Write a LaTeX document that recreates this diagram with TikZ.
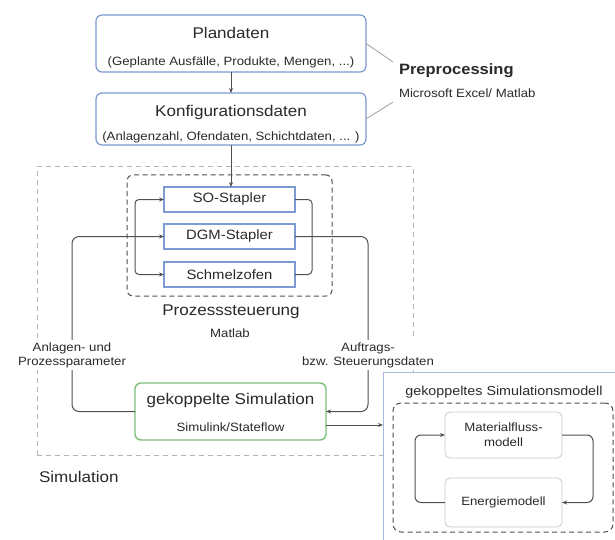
\documentclass[tikz,border=0pt]{standalone}
\usepackage{fontspec}
\setmainfont{Liberation Sans}[FakeStretch=1.1]
\usetikzlibrary{arrows.meta,calc}
\definecolor{txt}{HTML}{2A2A2A}
\definecolor{bluebd}{HTML}{7D9BD0}
\definecolor{lightbd}{HTML}{A9B9DE}
\definecolor{greenbd}{HTML}{7DC07D}
\definecolor{linec}{HTML}{505050}
\definecolor{simdash}{HTML}{B4B4B4}
\definecolor{prepline}{HTML}{A8A8A8}
\definecolor{modbd}{HTML}{C8C8C8}
\newcommand{\fsz}[1]{\fontsize{#1}{#1}\selectfont}
\tikzset{
  every node/.style={text=txt, inner sep=0pt, outer sep=0pt},
  databox/.style={draw=bluebd, line width=1.2pt, fill=white, rounded corners=6pt},
  stapbox/.style={draw=bluebd, line width=1.2pt, fill=white, minimum width=131pt, minimum height=25pt, font=\fsz{13.5}},
  simbox/.style={draw=greenbd, line width=1.4pt, fill=white, rounded corners=6pt},
  modbox/.style={draw=modbd, line width=0.8pt, fill=white, rounded corners=5pt, minimum width=117pt, align=center, font=\fsz{12}},
  ttl/.style={font=\fsz{15.5}},
  sub/.style={font=\fsz{12}},
  conn/.style={draw=linec, line width=1pt},
  arr/.style={conn, -{Stealth[length=5pt,width=4pt]}},
  lbl/.style={fill=white, align=center, font=\fsz{12}, inner sep=2pt},
}
\begin{document}
\begin{tikzpicture}[x=1pt,y=-1pt]
\useasboundingbox (0,0) rectangle (615,540);
\clip (0,0) rectangle (615,540);
\fill[white] (0,0) rectangle (615,540);

% Preprocessing boxes
\node[databox, minimum width=270pt, minimum height=57pt] (plan) at (231,43.5) {};
\node[ttl] (planT) at (231,33) {Plandaten};
\node[sub] (planS) at (231,62) {(Geplante Ausfälle, Produkte, Mengen, ...)};
\node[databox, minimum width=270pt, minimum height=52pt] (konf) at (231,119) {};
\node[ttl] (konfT) at (231,112) {Konfigurationsdaten};
\node[sub] (konfS) at (231,137) {(Anlagenzahl, Ofendaten, Schichtdaten, ... )};
\draw[arr] (plan.south) -- (konf.north);

\coordinate (pp1) at (393,62);
\coordinate (pp2) at (393,102);
\draw[draw=prepline, line width=0.9pt] (plan.east) -- (pp1);
\draw[draw=prepline, line width=0.9pt] (konf.east) -- (pp2);
\node[anchor=west, font=\bfseries\fsz{15}] (pre) at (399,71) {Preprocessing};
\node[anchor=west, font=\fsz{12}] (preS) at (399,93) {Microsoft Excel/ Matlab};

% Simulation area
\node[draw=simdash, line width=1pt, dash pattern=on 5pt off 4pt, minimum width=376pt, minimum height=288pt] (sim) at (225,311) {};
\node[anchor=west, font=\fsz{15.5}] (simL) at (39,477) {Simulation};

\node[draw=linec, line width=1pt, dash pattern=on 5pt off 3.5pt, rounded corners=6pt, minimum width=205pt, minimum height=121pt] (proz) at (229.5,235.5) {};
\node[stapbox] (so) at (229.5,199.5) {SO-Stapler};
\node[stapbox] (dgm) at (229.5,236.5) {DGM-Stapler};
\node[stapbox] (schm) at (229.5,274.5) {Schmelzofen};
\node[ttl] (prozL) at (231,312) {Prozesssteuerung};
\node[sub] (prozS) at (230,333) {Matlab};

\draw[arr] (konf.south) -- (konf.south |- so.north);

\coordinate (fork) at (135,236.5);
\draw[arr, rounded corners=4pt] (fork) |- (so.west);
\draw[arr, rounded corners=4pt] (fork) |- (schm.west);
\draw[conn, rounded corners=4pt] (so.east) -- ++(17,0) |- (schm.east);

\node[simbox, minimum width=191pt, minimum height=57pt] (gek) at (230.5,411.5) {};
\node[ttl] (gekT) at (230.5,400) {gekoppelte Simulation};
\node[sub] (gekS) at (230.5,427) {Simulink/Stateflow};

\coordinate (rc) at (368,300);
\coordinate (lc) at (72,300);
\draw[arr, rounded corners=7pt] (dgm.east) -| (rc) |- (gek.east);
\draw[arr, rounded corners=7pt] (gek.west) -| (lc) |- (dgm.west);
\node[lbl] (lblL) at (72,355) {Anlagen- und\\[2pt]Prozessparameter};
\node[lbl] (lblR) at (368,355) {Auftrags-\\[2pt]bzw. Steuerungsdaten};

% Coupled simulation model
\node[draw=lightbd, line width=1pt, fill=white, minimum width=247pt, minimum height=188pt] (rbox) at (506.5,466) {};
\coordinate (gout) at (326,425);
\draw[arr] (gout) -- (gout -| rbox.west);
\node[font=\fsz{13}] (rboxT) at (504,392) {gekoppeltes Simulationsmodell};
\node[draw=linec, line width=1pt, dash pattern=on 5pt off 3.5pt, rounded corners=8pt, minimum width=220pt, minimum height=129pt] (inner) at (503,467.5) {};
\node[modbox, minimum height=46pt] (mat) at (503.5,435) {Materialfluss-\\[3pt]modell};
\node[modbox, minimum height=49pt] (ener) at (503.5,502.5) {Energiemodell};
\draw[arr, rounded corners=6pt] (ener.west) -- ++(-30,0) |- (mat.west);
\draw[arr, rounded corners=6pt] (mat.east) -- ++(31,0) |- (ener.east);
\end{tikzpicture}
\end{document}
